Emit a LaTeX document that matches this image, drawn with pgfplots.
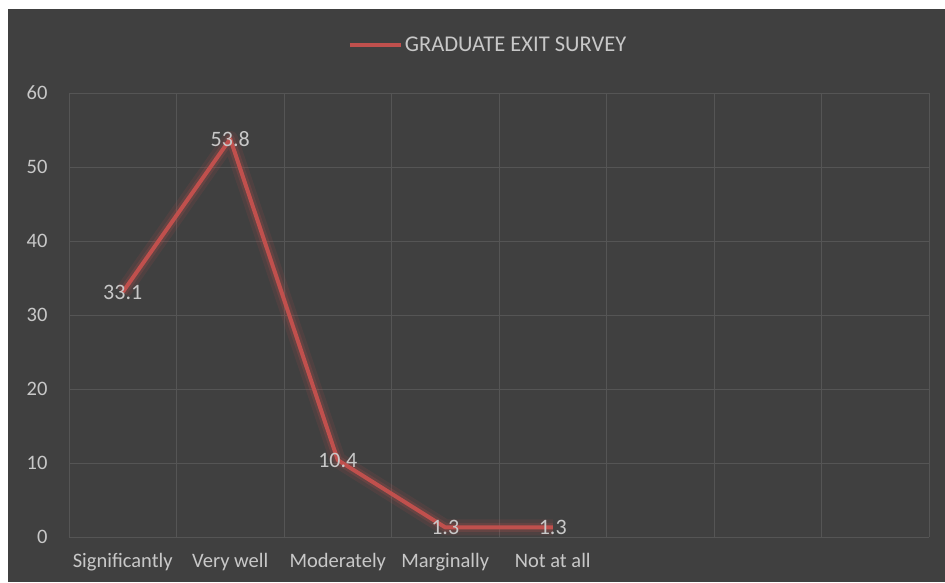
\documentclass[border=0pt]{standalone}
\usepackage{fontspec}
\setmainfont{Carlito}
\usepackage{pgfplots}
\pgfplotsset{compat=1.18}
\definecolor{bg}{HTML}{404040}
\definecolor{gridc}{HTML}{555555}
\definecolor{txt}{HTML}{C8C8C8}
\definecolor{lred}{HTML}{C0504D}

\begin{document}
\begin{tikzpicture}
\fill[white] (0,0) rectangle (945pt,582pt);
\fill[bg] (8pt,0) rectangle (945pt,573pt);
\begin{axis}[
  at={(69pt,45pt)}, anchor=south west,
  scale only axis, width=860pt, height=444pt,
  xmin=0, xmax=8, ymin=0, ymax=60,
  xtick={0.5,1.5,2.5,3.5,4.5},
  xticklabels={Significantly, Very well, Moderately, Marginally, Not at all},
  minor xtick={0,...,8},
  ytick={0,10,...,60},
  xminorgrids, ymajorgrids,
  grid style={gridc, line width=1pt},
  minor grid style={gridc, line width=1pt},
  axis line style={draw=none},
  major tick length=0pt, minor tick length=0pt,
  tick label style={font=\fontsize{20.5}{24}\selectfont, text=txt},
  yticklabel style={xshift=-18pt},
  xticklabel style={yshift=-13pt},
  /pgf/number format/assume math mode=true,
  legend style={at={(0.487,1.108)}, anchor=center, draw=none, fill=none,
    text=txt, font=\fontsize{22.5}{26}\selectfont},
  legend image code/.code={\draw[lred, line width=4.5pt] (0pt,0pt) -- (51pt,0pt);},
  clip=false,
]
% glow
\addplot[lred, opacity=0.12, line width=16pt, line join=round, forget plot]
  coordinates {(0.5,33.1) (1.5,53.8) (2.5,10.4) (3.5,1.3) (4.5,1.3)};
\addplot[lred, opacity=0.2, line width=9pt, line join=round, forget plot]
  coordinates {(0.5,33.1) (1.5,53.8) (2.5,10.4) (3.5,1.3) (4.5,1.3)};
% main line
\addplot[lred, line width=4pt, line join=round,
  nodes near coords,
  nodes near coords style={anchor=center, text=txt, font=\fontsize{22}{26}\selectfont}]
  coordinates {(0.5,33.1) (1.5,53.8) (2.5,10.4) (3.5,1.3) (4.5,1.3)};
\addlegendentry{GRADUATE EXIT SURVEY}
\end{axis}
\end{tikzpicture}
\end{document}
